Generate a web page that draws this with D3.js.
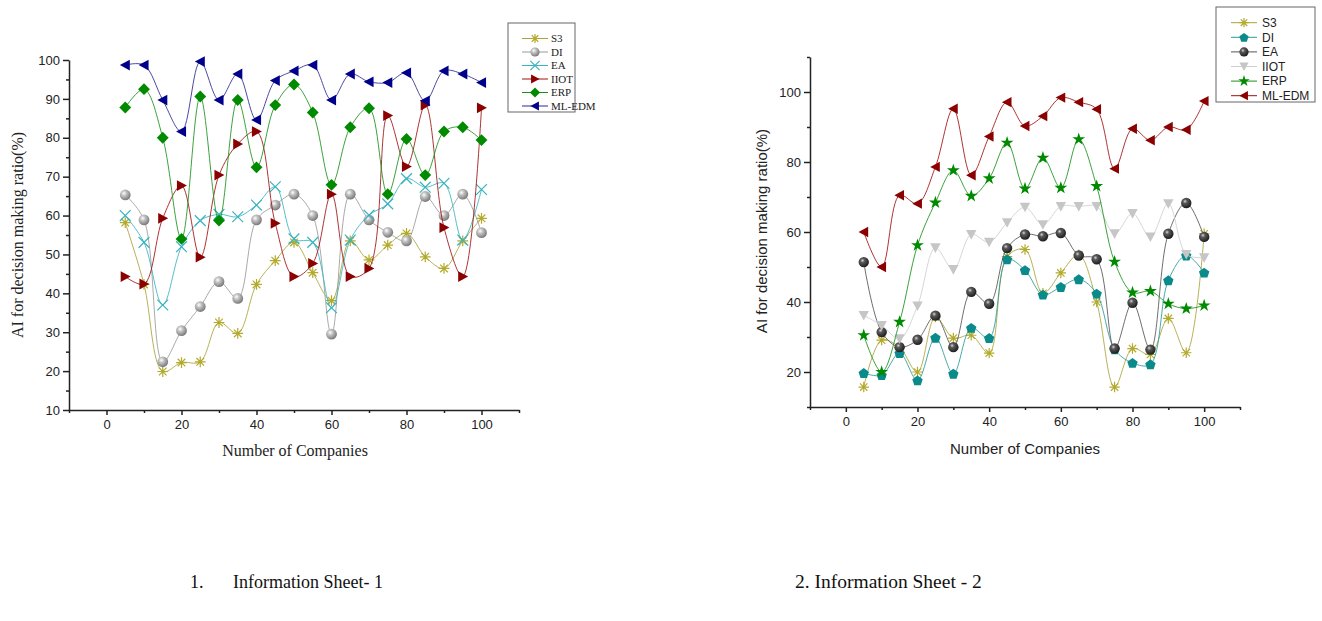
<!DOCTYPE html>
<html>
<head>
<meta charset="utf-8">
<script src="https://cdn.jsdelivr.net/npm/d3@7"></script>
<style>
body { margin: 0; background: #fff; }
svg { display: block; }
</style>
</head>
<body>
<div id="graph"></div>
<script>
// number of companies (x values, same for both sheets)
const companies = [5, 10, 15, 20, 25, 30, 35, 40, 45, 50, 55, 60, 65, 70, 75, 80, 85, 90, 95, 100];
const seriesNames = ['S3', 'DI', 'EA', 'IIOT', 'ERP', 'ML-EDM'];

// information sheet 1
const s3Sheet1 = [58.2, 42.3, 19.9, 22.2, 22.4, 32.5, 29.7, 42.3, 48.4, 53.1, 45.3, 38.1, 53.5, 48.6, 52.4, 55.4, 49.4, 46.4, 53.5, 59.3];
const diSheet1 = [65.3, 58.9, 22.4, 30.4, 36.6, 43.0, 38.7, 58.9, 62.7, 65.5, 60.0, 29.5, 65.5, 58.9, 55.7, 53.5, 64.9, 60.0, 65.5, 55.6];
const eaSheet1 = [60.0, 53.1, 37.0, 52.0, 58.7, 60.3, 59.7, 62.7, 67.4, 54.0, 53.1, 36.3, 53.7, 60.1, 63.0, 69.5, 67.3, 68.3, 53.7, 66.7];
const iiotSheet1 = [44.3, 42.4, 59.3, 67.7, 49.3, 70.4, 78.4, 81.6, 58.0, 44.3, 47.7, 65.5, 44.3, 46.4, 85.7, 72.6, 88.4, 56.9, 44.3, 87.7];
const erpSheet1 = [87.8, 92.5, 80.0, 54.0, 90.6, 58.7, 89.7, 72.4, 88.4, 93.7, 86.5, 67.9, 82.7, 87.6, 65.5, 79.7, 70.4, 81.6, 82.7, 79.4];
const mlSheet1 = [98.7, 98.7, 89.7, 81.6, 99.6, 89.7, 96.4, 84.6, 94.7, 97.2, 98.7, 89.7, 96.4, 94.4, 94.2, 96.7, 89.5, 97.2, 96.4, 94.2];

// information sheet 2
const s3Sheet2 = [15.7, 29.1, 27.0, 20.0, 35.7, 29.7, 30.5, 25.4, 53.0, 55.0, 42.5, 48.3, 53.5, 40.0, 15.7, 26.7, 25.0, 35.3, 25.5, 59.5];
const diSheet2 = [19.7, 19.1, 25.4, 17.6, 29.8, 19.5, 32.6, 29.7, 52.2, 49.1, 42.1, 44.3, 46.5, 42.4, 26.5, 22.6, 22.2, 46.2, 53.3, 48.4];
const eaSheet2 = [51.4, 31.4, 27.1, 29.2, 36.1, 27.1, 42.9, 39.5, 55.4, 59.3, 58.8, 59.7, 53.3, 52.2, 26.7, 39.8, 26.4, 59.5, 68.3, 58.6];
const iiotSheet2 = [36.2, 33.3, 29.5, 38.9, 55.5, 49.3, 59.3, 57.1, 62.7, 67.1, 62.1, 67.3, 67.3, 67.3, 59.5, 65.3, 58.6, 68.1, 53.6, 52.7];
const erpSheet2 = [30.5, 20.0, 34.3, 56.2, 68.4, 77.6, 70.3, 75.3, 85.5, 72.4, 81.2, 72.6, 86.5, 73.1, 51.5, 42.7, 43.1, 39.5, 38.1, 39.0];
const mlSheet2 = [60.0, 50.0, 70.5, 68.1, 78.6, 95.2, 76.2, 87.3, 97.1, 90.3, 93.1, 98.4, 97.1, 95.1, 78.1, 89.5, 86.2, 90.0, 89.2, 97.4];

// tick values
const xTicks = [0, 20, 40, 60, 80, 100];
const xMinorTicks = [-10, 10, 30, 50, 70, 90, 110];
const yTicks1 = [10, 20, 30, 40, 50, 60, 70, 80, 90, 100];
const yMinorTicks1 = [15, 25, 35, 45, 55, 65, 75, 85, 95];
const yTicks2 = [20, 40, 60, 80, 100];
const yMinorTicks2 = [10, 30, 50, 70, 90, 110];

const W = 1322, H = 621;
const svg = d3.select('#graph').append('svg')
    .attr('width', W)
    .attr('height', H)
    .style('background', '#fff');

const defs = svg.append('defs');
function ballGradient(id, stops) {
    const g = defs.append('radialGradient').attr('id', id)
        .attr('cx', '38%').attr('cy', '35%').attr('r', '65%');
    stops.forEach(s => g.append('stop').attr('offset', s[0]).attr('stop-color', s[1]));
}
ballGradient('ballLight', [[0, '#ffffff'], [0.35, '#c4c4c4'], [1, '#7a7a7a']]);
ballGradient('ballDark', [[0, '#d8d8d8'], [0.3, '#5a5a5a'], [1, '#1e1e1e']]);

// marker shapes, r = half size
function poly(pts) { return 'M' + pts.map(p => p.join(',')).join('L') + 'Z'; }
function markerPath(shape, r) {
    const d = r * 0.7071;
    switch (shape) {
        case 'asterisk':
            return `M${-r},0L${r},0M0,${-r}L0,${r}M${-d},${-d}L${d},${d}M${-d},${d}L${d},${-d}`;
        case 'x':
            return `M${-r},${-r}L${r},${r}M${-r},${r}L${r},${-r}`;
        case 'left':
            return poly([[-r, 0], [r * 0.85, -r], [r * 0.85, r]]);
        case 'right':
            return poly([[r, 0], [-r * 0.85, -r], [-r * 0.85, r]]);
        case 'down':
            return poly([[0, r], [-r, -r * 0.85], [r, -r * 0.85]]);
        case 'diamond':
            return poly([[0, -r * 1.1], [r * 1.1, 0], [0, r * 1.1], [-r * 1.1, 0]]);
        case 'pentagon':
            return poly(d3.range(5).map(i => {
                const a = -Math.PI / 2 + i * 2 * Math.PI / 5;
                return [r * 1.05 * Math.cos(a), r * 1.05 * Math.sin(a) + r * 0.1];
            }));
        case 'star':
            return d3.symbol(d3.symbolStar, r * r * 1.9)();
        default:
            return d3.symbol(d3.symbolCircle, Math.PI * r * r)();
    }
}

function drawMarker(g, s, r) {
    const p = g.append('path').attr('d', markerPath(s.shape, r));
    if (s.shape === 'asterisk' || s.shape === 'x') {
        p.attr('fill', 'none').attr('stroke', s.marker).attr('stroke-width', 1.2);
    } else {
        p.attr('fill', s.marker);
    }
    return p;
}

function drawChart(cfg) {
    const x = d3.scaleLinear().domain([-10, 110]).range(cfg.xRange);
    const y = d3.scaleLinear().domain(cfg.yDomain).range(cfg.yRange);
    const g = svg.append('g');

    // axes
    const bottom = y.range()[0], left = x.range()[0];
    g.append('g').attr('transform', `translate(0,${bottom})`)
        .call(d3.axisBottom(x).tickValues(xTicks).tickSize(5).tickSizeOuter(0).tickPadding(5));
    g.append('g').attr('transform', `translate(0,${bottom})`)
        .call(d3.axisBottom(x).tickValues(xMinorTicks).tickSize(3).tickSizeOuter(0).tickFormat(''))
        .select('.domain').remove();
    g.append('g').attr('transform', `translate(${left},0)`)
        .call(d3.axisLeft(y).tickValues(cfg.yTicks).tickSize(6).tickSizeOuter(0).tickPadding(3));
    g.append('g').attr('transform', `translate(${left},0)`)
        .call(d3.axisLeft(y).tickValues(cfg.yMinor).tickSize(3).tickSizeOuter(0).tickFormat(''))
        .select('.domain').remove();
    g.selectAll('.domain, .tick line').attr('stroke', '#222').attr('stroke-width', 1.5);
    g.selectAll('.tick text').attr('font-family', 'Liberation Sans, Arial, sans-serif')
        .attr('font-size', 13).attr('fill', '#222');

    // titles
    g.append('text')
        .attr('transform', `translate(${cfg.yTitle[0]},${cfg.yTitle[1]}) rotate(-90)`)
        .attr('text-anchor', 'middle')
        .attr('font-family', cfg.titleFont)
        .attr('font-size', cfg.titleSize)
        .attr('fill', '#222')
        .text('AI for decision making ratio(%)');
    g.append('text')
        .attr('x', cfg.xTitle[0]).attr('y', cfg.xTitle[1])
        .attr('text-anchor', 'middle')
        .attr('font-family', cfg.titleFont)
        .attr('font-size', cfg.titleSize)
        .attr('fill', '#222')
        .text('Number of Companies');

    const line = d3.line()
        .x(d => x(d[0]))
        .y(d => y(d[1]))
        .curve(d3.curveCatmullRom.alpha(0.5));

    cfg.series.forEach(s => {
        const pts = companies.map((c, i) => [c, s.values[i]]);
        const sg = g.append('g');
        sg.append('path')
            .attr('d', line(pts))
            .attr('fill', 'none')
            .attr('stroke', s.line)
            .attr('stroke-width', 1)
            .attr('stroke-opacity', 0.85);
        pts.forEach(p => {
            drawMarker(sg, s, cfg.markerR)
                .attr('transform', `translate(${x(p[0])},${y(p[1])})`);
        });
    });

    // legend
    const L = cfg.legend;
    g.append('rect')
        .attr('x', L.x).attr('y', L.y).attr('width', L.w).attr('height', L.h)
        .attr('fill', '#fff').attr('stroke', '#666').attr('stroke-width', 1);
    cfg.series.forEach((s, i) => {
        const ly = L.y0 + i * L.dy;
        g.append('line')
            .attr('x1', L.lx0).attr('x2', L.lx1).attr('y1', ly).attr('y2', ly)
            .attr('stroke', s.line).attr('stroke-width', 1);
        drawMarker(g, s, L.r)
            .attr('transform', `translate(${(L.lx0 + L.lx1) / 2},${ly})`);
        g.append('text')
            .attr('x', L.tx).attr('y', ly)
            .attr('dy', '0.35em')
            .attr('font-family', L.font)
            .attr('font-size', L.size)
            .attr('fill', '#222')
            .text(s.name);
    });
}

const serif = 'Liberation Serif, Times New Roman, serif';
const sans = 'Liberation Sans, Arial, sans-serif';

drawChart({
    xRange: [69, 519],
    yDomain: [10, 100],
    yRange: [410, 60],
    yTicks: yTicks1,
    yMinor: yMinorTicks1,
    titleFont: serif,
    titleSize: 16,
    yTitle: [23, 235],
    xTitle: [295, 456],
    markerR: 5.4,
    series: [
        { name: seriesNames[0], values: s3Sheet1, shape: 'asterisk', marker: '#b3aa2c', line: '#aaa33a' },
        { name: seriesNames[1], values: diSheet1, shape: 'ball', marker: 'url(#ballLight)', line: '#9a9a9a' },
        { name: seriesNames[2], values: eaSheet1, shape: 'x', marker: '#3ab3bf', line: '#3ab3bf' },
        { name: seriesNames[3], values: iiotSheet1, shape: 'right', marker: '#8b0000', line: '#a01010' },
        { name: seriesNames[4], values: erpSheet1, shape: 'diamond', marker: '#008a00', line: '#1a901a' },
        { name: seriesNames[5], values: mlSheet1, shape: 'left', marker: '#00008b', line: '#2a2a90' }
    ],
    legend: { x: 508, y: 23, w: 67, h: 89, y0: 38.5, dy: 13.5, lx0: 522, lx1: 548, tx: 551, r: 4.6, font: serif, size: 11 }
});

drawChart({
    xRange: [810, 1240],
    yDomain: [10, 110],
    yRange: [407, 57],
    yTicks: yTicks2,
    yMinor: yMinorTicks2,
    titleFont: sans,
    titleSize: 15,
    yTitle: [767, 231],
    xTitle: [1025, 454],
    markerR: 5.2,
    series: [
        { name: seriesNames[0], values: s3Sheet2, shape: 'asterisk', marker: '#b3aa2c', line: '#aaa33a' },
        { name: seriesNames[1], values: diSheet2, shape: 'pentagon', marker: '#0a8a8a', line: '#2a9a9a' },
        { name: seriesNames[2], values: eaSheet2, shape: 'ball', marker: 'url(#ballDark)', line: '#555' },
        { name: seriesNames[3], values: iiotSheet2, shape: 'down', marker: '#c6c6c6', line: '#cfcfcf' },
        { name: seriesNames[4], values: erpSheet2, shape: 'star', marker: '#008a00', line: '#1a901a' },
        { name: seriesNames[5], values: mlSheet2, shape: 'left', marker: '#8b0000', line: '#a01010' }
    ],
    legend: { x: 1216, y: 7, w: 99, h: 95, y0: 22.7, dy: 14.6, lx0: 1231, lx1: 1257, tx: 1262, r: 4.6, font: sans, size: 12 }
});

// captions under the charts
const caption = svg.append('g')
    .attr('font-family', serif)
    .attr('font-size', 18)
    .attr('fill', '#111');
caption.append('text').attr('x', 190).attr('y', 588).text('1.');
caption.append('text').attr('x', 233).attr('y', 588).text('Information Sheet- 1');
caption.append('text').attr('x', 795).attr('y', 588).attr('font-size', 19.5).text('2. Information Sheet - 2');
</script>
</body>
</html>
